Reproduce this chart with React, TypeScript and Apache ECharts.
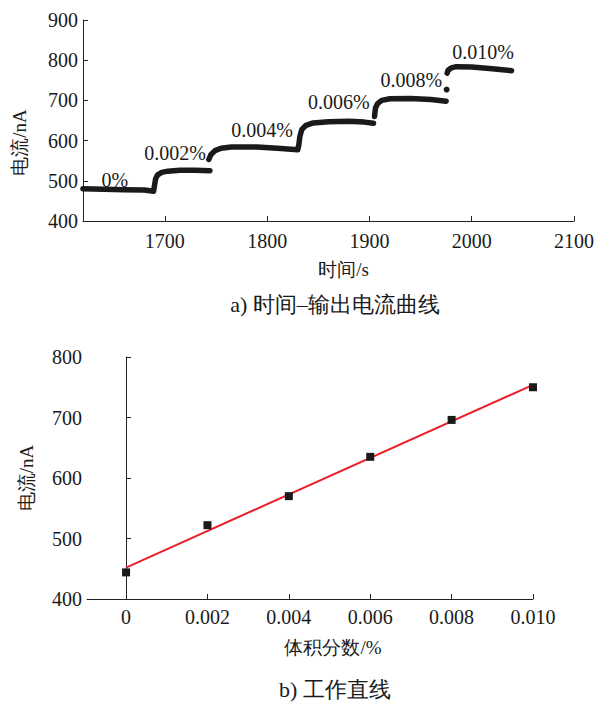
import React, { useEffect, useRef } from "react";
import * as echarts from "echarts";

// ---- Panel a) time vs. output current ----
const timeTicks = [1700, 1800, 1900, 2000, 2100];
const segment0: number[][] = [
  [1620, 480], [1640, 479], [1660, 478], [1680, 477], [1689, 474],
  [1690, 490], [1691, 505], [1693, 515], [1697, 521], [1703, 524],
  [1715, 526], [1730, 526], [1744, 525],
];
const segment1: number[][] = [
  [1743, 553], [1745, 565], [1749, 575], [1755, 581], [1765, 584],
  [1790, 584], [1810, 581], [1830, 577],
  [1831, 590], [1832, 610], [1834, 628], [1838, 638], [1845, 644],
  [1860, 647], [1880, 648], [1895, 646], [1904, 643],
];
const segment2: number[][] = [
  [1905, 660], [1905.5, 672], [1906, 682], [1908, 692], [1912, 700],
  [1920, 704], [1940, 705], [1960, 702], [1975, 698],
];
const segment3: number[][] = [
  [1976, 768], [1977, 775], [1980, 781], [1985, 784], [2000, 783],
  [2020, 779], [2039, 774],
];
const strayPoints: number[][] = [[1975.5, 727]];
const concLabels = ["0%", "0.002%", "0.004%", "0.006%", "0.008%", "0.010%"];
const concLabelX = [1651, 1710, 1795, 1870, 1941, 2011];
const concLabelY = [502, 569, 626, 697, 751, 821];

// ---- Panel b) working line ----
const fractions = [0, 0.002, 0.004, 0.006, 0.008, 0.01];
const currents = [444, 522, 570, 635, 696, 750];
const fitLine: number[][] = [[0, 452], [0.01, 754]];
const fracTicks = [0, 0.002, 0.004, 0.006, 0.008, 0.01];

const FONT = "Liberation Serif";
const INK = "#1a1a1a";

export default function App() {
  const ref = useRef<HTMLDivElement>(null);

  useEffect(() => {
    if (!ref.current) return;
    const chart = echarts.init(ref.current, undefined, { renderer: "svg" });

    const txt = (size: number) => ({ fontFamily: FONT, fontSize: size, color: INK });

    const axisLine = { show: true, lineStyle: { color: "#222", width: 1 } };
    const tick = (vals?: number[]) => ({
      show: true,
      inside: true,
      length: 5,
      lineStyle: { color: "#222" },
      ...(vals ? { customValues: vals } : {}),
    });

    const lineSeg = (data: number[][]) => ({
      type: "line",
      xAxisIndex: 0,
      yAxisIndex: 0,
      data,
      showSymbol: false,
      symbol: "none",
      lineStyle: { color: INK, width: 5.5, cap: "round", join: "round" },
      z: 3,
    });

    const option: any = {
      animation: false,
      grid: [
        { left: 83, top: 20, width: 491, height: 201 },
        { left: 87, top: 357, width: 446, height: 242 },
      ],
      xAxis: [
        {
          gridIndex: 0,
          type: "value",
          min: 1620,
          max: 2100,
          axisLine,
          splitLine: { show: false },
          axisTick: tick(timeTicks),
          axisLabel: {
            ...txt(20),
            customValues: timeTicks,
            margin: 10,
            formatter: (v: number) => String(v),
          },
          name: "时间/s",
          nameLocation: "middle",
          nameGap: 39,
          nameTextStyle: { ...txt(19), padding: [0, 0, 0, 30] },
        },
        {
          gridIndex: 1,
          type: "value",
          min: -0.00096,
          max: 0.01,
          axisLine,
          splitLine: { show: false },
          axisTick: tick(fracTicks),
          axisLabel: {
            ...txt(20),
            customValues: fracTicks,
            margin: 8,
            formatter: (v: number) => (v === 0 ? "0" : v.toFixed(3)),
          },
          name: "体积分数/%",
          nameLocation: "middle",
          nameGap: 39,
          nameTextStyle: { ...txt(19), padding: [0, 0, 0, 46] },
        },
      ],
      yAxis: [
        {
          gridIndex: 0,
          type: "value",
          min: 400,
          max: 900,
          interval: 100,
          axisLine,
          splitLine: { show: false },
          axisTick: tick(),
          axisLabel: { ...txt(20), margin: 5 },
          name: "电流/nA",
          nameLocation: "middle",
          nameGap: 54,
          nameTextStyle: { ...txt(19), padding: [0, 44, 0, 0] },
        },
        {
          gridIndex: 1,
          type: "value",
          min: 400,
          max: 800,
          interval: 100,
          axisLine,
          splitLine: { show: false },
          axisTick: tick(),
          axisLabel: { ...txt(20), margin: 5 },
          name: "电流/nA",
          nameLocation: "middle",
          nameGap: 51,
          nameTextStyle: txt(19),
        },
      ],
      series: [
        lineSeg(segment0),
        lineSeg(segment1),
        lineSeg(segment2),
        lineSeg(segment3),
        {
          type: "scatter",
          xAxisIndex: 0,
          yAxisIndex: 0,
          data: strayPoints,
          symbol: "circle",
          symbolSize: 6,
          itemStyle: { color: INK, opacity: 1 },
        },
        {
          type: "scatter",
          xAxisIndex: 0,
          yAxisIndex: 0,
          data: concLabels.map((name, i) => ({ name, value: [concLabelX[i], concLabelY[i]] })),
          symbolSize: 1,
          itemStyle: { color: "#fff", opacity: 0 },
          label: {
            ...txt(20),
            show: true,
            position: "inside",
            formatter: "{b}",
            opacity: 1,
          },
          z: 4,
        },
        {
          type: "line",
          xAxisIndex: 1,
          yAxisIndex: 1,
          data: fitLine,
          showSymbol: false,
          symbol: "none",
          lineStyle: { color: "#e8202a", width: 2 },
        },
        {
          type: "scatter",
          xAxisIndex: 1,
          yAxisIndex: 1,
          data: fractions.map((f, i) => [f, currents[i]]),
          symbol: "rect",
          symbolSize: 8,
          itemStyle: { color: INK, opacity: 1 },
          z: 4,
        },
      ],
      graphic: [
        {
          type: "text",
          x: 335,
          y: 304,
          style: {
            text: "a) 时间–输出电流曲线",
            fontFamily: FONT,
            fontSize: 22,
            fill: INK,
            textAlign: "center",
            textVerticalAlign: "middle",
          },
        },
        {
          type: "text",
          x: 335,
          y: 689,
          style: {
            text: "b) 工作直线",
            fontFamily: FONT,
            fontSize: 22,
            fill: INK,
            textAlign: "center",
            textVerticalAlign: "middle",
          },
        },
      ],
    };

    chart.setOption(option);
    return () => chart.dispose();
  }, []);

  return <div ref={ref} style={{ width: 601, height: 702, position: "absolute", left: 0, top: 0 }} />;
}
